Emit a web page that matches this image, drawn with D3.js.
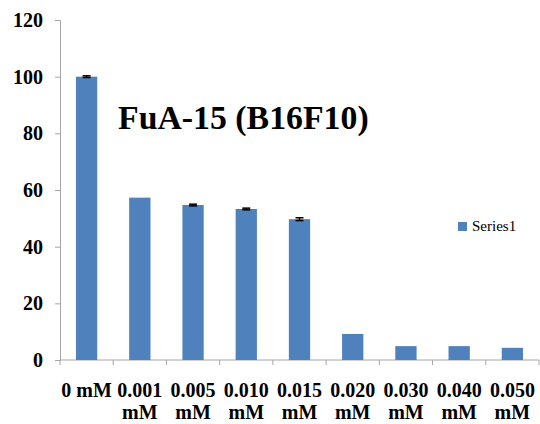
<!DOCTYPE html>
<html>
<head>
<meta charset="utf-8">
<script src="https://cdn.jsdelivr.net/npm/d3@7"></script>
<style>
  html, body { margin: 0; padding: 0; background: #fff; }
  svg { display: block; }
</style>
</head>
<body>
<svg id="chart" width="540" height="424"></svg>
<script>
// Viability per concentration (percent of untreated control)
const categories = ["0 mM", "0.001 mM", "0.005 mM", "0.010 mM", "0.015 mM", "0.020 mM", "0.030 mM", "0.040 mM", "0.050 mM"];
const values = [100, 57.3, 54.7, 53.3, 49.7, 9.2, 4.9, 4.9, 4.3];
const errors = [0.3, 0, 0.3, 0.3, 0.5, 0, 0, 0, 0];
const yTicks = [0, 20, 40, 60, 80, 100, 120];
const seriesName = "Series1";
const title = "FuA-15 (B16F10)";

const svg = d3.select("#chart");
const serif = "'Liberation Serif', 'Times New Roman', serif";
const plot = { left: 60, right: 539, top: 20, bottom: 360 };

const x = d3.scaleBand().domain(categories).range([plot.left, plot.right]).paddingInner(0.6).paddingOuter(0.3);
const band = d3.scaleBand().domain(categories).range([plot.left, plot.right]);
const y = d3.scaleLinear().domain([0, 120]).range([plot.bottom, plot.top]);

// Y axis
const yAxis = svg.append("g").attr("transform", `translate(${plot.left},0)`)
  .call(d3.axisLeft(y).tickValues(yTicks).tickSize(5).tickPadding(12));
yAxis.select(".domain").attr("stroke", "#a6a6a6");
yAxis.selectAll(".tick line").attr("stroke", "#a6a6a6");
yAxis.selectAll(".tick text").attr("font-family", serif).attr("font-weight", "bold")
  .attr("font-size", 20).attr("fill", "#000");

// X axis: tick marks at band boundaries
const xg = svg.append("g");
xg.append("line").attr("x1", plot.left).attr("x2", plot.right)
  .attr("y1", plot.bottom).attr("y2", plot.bottom).attr("stroke", "#a6a6a6");
const bounds = categories.map(c => band(c)).concat([band(categories[categories.length - 1]) + band.bandwidth()]);
xg.selectAll("line.tk").data(bounds).join("line").attr("class", "tk")
  .attr("x1", d => d).attr("x2", d => d)
  .attr("y1", plot.bottom).attr("y2", plot.bottom + 5).attr("stroke", "#a6a6a6");

// Category labels, wrapped onto two lines when they do not fit
xg.selectAll("text.cat").data(categories).join("text").attr("class", "cat")
  .attr("font-family", serif).attr("font-weight", "bold").attr("font-size", 20)
  .attr("text-anchor", "middle").attr("fill", "#000")
  .each(function (d) {
    const cx = band(d) + band.bandwidth() / 2;
    const parts = d === "0 mM" ? [d] : d.split(" ");
    parts.forEach((p, i) => {
      d3.select(this).append("tspan").attr("x", cx).attr("y", 397 + i * 22).text(p);
    });
  });

// Bars
svg.append("g").selectAll("rect").data(values).join("rect")
  .attr("x", (d, i) => x(categories[i]))
  .attr("y", d => y(d))
  .attr("width", x.bandwidth())
  .attr("height", d => y(0) - y(d))
  .attr("fill", "#4f81bd");

// Error bars
const eg = svg.append("g").attr("stroke", "#000").attr("stroke-width", 1.5);
values.forEach((v, i) => {
  if (!errors[i]) return;
  const cx = x(categories[i]) + x.bandwidth() / 2;
  eg.append("line").attr("x1", cx).attr("x2", cx).attr("y1", y(v + errors[i])).attr("y2", y(v - errors[i]));
  [v + errors[i], v - errors[i]].forEach(e => {
    eg.append("line").attr("x1", cx - 4).attr("x2", cx + 4).attr("y1", y(e)).attr("y2", y(e));
  });
});

// Title
svg.append("text").attr("x", 118).attr("y", 129)
  .attr("font-family", serif).attr("font-weight", "bold").attr("font-size", 33.8)
  .attr("fill", "#000").text(title);

// Legend
const lg = svg.append("g").attr("transform", "translate(458,222)");
lg.append("rect").attr("width", 9).attr("height", 9).attr("fill", "#4f81bd");
lg.append("text").attr("x", 14).attr("y", 9).attr("font-family", serif)
  .attr("font-size", 15).attr("fill", "#000").text(seriesName);
</script>
</body>
</html>
